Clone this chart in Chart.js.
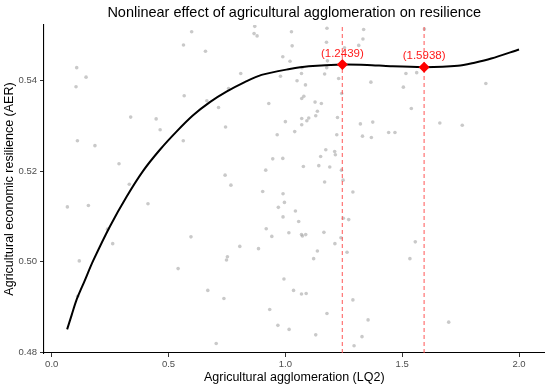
<!DOCTYPE html>
<html>
<head>
<meta charset="utf-8">
<script src="https://cdn.jsdelivr.net/npm/chart.js@4/dist/chart.umd.min.js"></script>
<style>
  html, body { margin: 0; padding: 0; background: #fff; }
  #wrap { width: 550px; height: 389px; }
</style>
</head>
<body>
<div id="wrap"><canvas id="myChart" width="550" height="389"></canvas></div>
<script>
// scatter of observations (LQ2, AER)
const pointX = [
  0.107, 0.147, 0.104, 0.599, 0.564, 0.567, 0.338, 0.447, 0.464, 0.110, 0.185, 0.563, 0.288, 0.332,
  0.067, 0.157, 0.412, 0.239, 0.261, 0.596, 0.118, 0.541, 0.111,
  0.869, 0.866, 0.879, 0.658, 0.989, 0.809, 0.979, 0.757, 0.664, 0.714, 0.929, 0.744, 0.965,
  0.946, 0.989, 0.742, 0.916, 0.767,
  0.903, 0.990, 0.996, 0.970, 0.990, 0.918, 0.942, 1.015, 0.805, 0.885, 0.752, 0.748, 0.994,
  0.668, 0.737, 0.933, 0.968, 1.016, 0.704,
  1.026, 1.178, 1.335, 1.029, 1.176, 1.253, 1.332, 1.314, 1.020, 1.180, 1.071, 1.177, 1.069,
  1.168, 1.228, 1.050, 1.086, 1.366, 1.241, 1.079, 1.070, 1.127, 1.154, 1.137, 1.130, 1.100,
  1.070, 1.092, 1.223, 1.000, 1.070, 1.040, 1.321, 1.374, 1.220, 1.330, 1.368, 1.173, 1.211,
  1.151, 1.214, 1.077, 1.143, 1.190, 1.240, 1.168, 1.247,
  1.289, 1.043, 1.057, 1.248, 1.271, 1.069, 1.087, 1.073, 1.165, 1.238, 1.212, 1.137, 1.121,
  1.264, 1.035, 1.069, 1.089, 1.289, 1.178, 1.354, 1.130, 1.328, 1.294,
  1.595, 1.516, 1.562, 1.505, 1.858, 1.539, 1.661, 1.757, 1.442, 1.469, 1.556, 1.533, 1.699
];
const pointY = [
  0.5428, 0.5407, 0.5386, 0.5507, 0.5478, 0.5366, 0.5319, 0.5315, 0.5291, 0.5267, 0.5256, 0.5267, 0.5216, 0.5171,
  0.5121, 0.5124, 0.5128, 0.5072, 0.5040, 0.5055, 0.5002, 0.4985, 0.4924,
  0.5519, 0.5503, 0.5498, 0.5464, 0.5452, 0.5415, 0.5409, 0.5382, 0.5355, 0.5340, 0.5349, 0.5297, 0.5280,
  0.5227, 0.5228, 0.5191, 0.5202, 0.5169,
  0.5155, 0.5150, 0.5131, 0.5120, 0.5099, 0.5073, 0.5056, 0.5064, 0.5034, 0.5029, 0.5011, 0.5004, 0.4962,
  0.4937, 0.4919, 0.4895, 0.4860, 0.4851, 0.4820,
  0.5507, 0.5515, 0.5512, 0.5476, 0.5484, 0.5472, 0.5491, 0.5477, 0.5442, 0.5443, 0.5428, 0.5428, 0.5415,
  0.5414, 0.5404, 0.5399, 0.5390, 0.5396, 0.5371, 0.5365, 0.5360, 0.5352, 0.5349, 0.5332, 0.5322, 0.5317,
  0.5316, 0.5311, 0.5318, 0.5309, 0.5302, 0.5287, 0.5304, 0.5308, 0.5280, 0.5277, 0.5274, 0.5247, 0.5243,
  0.5232, 0.5236, 0.5210, 0.5212, 0.5209, 0.5202, 0.5176, 0.5180,
  0.5154, 0.5112, 0.5089, 0.5096, 0.5093, 0.5060, 0.5060, 0.5057, 0.5065, 0.5053, 0.5040, 0.5024, 0.5007,
  0.5021, 0.4937, 0.4929, 0.4930, 0.4916, 0.4886, 0.4872, 0.4839, 0.4835, 0.4815,
  0.5513, 0.5415, 0.5417, 0.5385, 0.5393, 0.5338, 0.5306, 0.5301, 0.5285, 0.5285, 0.5044, 0.5007, 0.4867
];

// fitted curve
const curveX = [0.066, 0.085, 0.107, 0.140, 0.178, 0.249, 0.321, 0.392, 0.463, 0.534, 0.605, 0.677, 0.748, 0.826,
  0.898, 1.019, 1.100, 1.2439, 1.350, 1.450, 1.5938, 1.738, 1.810, 1.881, 2.000];
const curveY = [0.4851, 0.4882, 0.4917, 0.4957, 0.5003, 0.5078, 0.5144, 0.5201, 0.5247, 0.5287, 0.5323, 0.5352, 0.5375, 0.5396,
  0.5412, 0.5425, 0.5431, 0.5435, 0.5434, 0.5431, 0.5429, 0.5432, 0.5439, 0.5448, 0.5468];

// turning points
const thresholdX = [1.2439, 1.5938];
const thresholdY = [0.5435, 0.5429];
const thresholdLabels = ['(1.2439)', '(1.5938)'];

const xTicks = [0.0, 0.5, 1.0, 1.5, 2.0];
const yTicks = [0.48, 0.50, 0.52, 0.54];

const xMin = -0.033, xMax = 2.109;
const yMin = 0.4799, yMax = 0.5522;

const FONT = '"Liberation Sans", Arial, sans-serif';

const scatterData = pointX.map((x, i) => ({ x: x, y: pointY[i] }));
const curveData = curveX.map((x, i) => ({ x: x, y: curveY[i] }));

const vlines = thresholdX.map(x => ({
  type: 'line',
  data: [{ x: x, y: yMin }, { x: x, y: yMax }],
  borderColor: 'rgba(255, 80, 80, 0.75)',
  borderWidth: 1.3,
  borderDash: [4, 3],
  pointRadius: 0,
  fill: false,
  order: 3
}));

const labelPlugin = {
  id: 'thresholdLabels',
  afterDatasetsDraw(chart) {
    const ctx = chart.ctx;
    const xs = chart.scales.x, ys = chart.scales.y;
    ctx.save();
    ctx.font = '11.5px ' + FONT;
    ctx.fillStyle = '#ff1a1a';
    ctx.textAlign = 'center';
    ctx.textBaseline = 'middle';
    thresholdX.forEach((x, i) => {
      ctx.fillText(thresholdLabels[i], xs.getPixelForValue(x), ys.getPixelForValue(thresholdY[i]) - 11);
    });
    ctx.restore();
  }
};

const config = {
  type: 'scatter',
  data: {
    datasets: [
      {
        data: scatterData,
        backgroundColor: 'rgba(165, 165, 165, 0.6)',
        borderWidth: 0,
        pointRadius: 1.8,
        order: 5
      },
      {
        type: 'line',
        data: curveData,
        borderColor: '#000',
        borderWidth: 2,
        pointRadius: 0,
        tension: 0.3,
        fill: false,
        order: 4
      },
      ...vlines,
      {
        data: thresholdX.map((x, i) => ({ x: x, y: thresholdY[i] })),
        pointStyle: 'rectRot',
        pointRadius: 5.5,
        backgroundColor: '#ff0000',
        borderColor: '#ff0000',
        borderWidth: 0,
        order: 1
      }
    ]
  },
  options: {
    responsive: false,
    animation: false,
    events: [],
    layout: { padding: { left: 0, right: 5, top: 0, bottom: 0 } },
    plugins: {
      legend: { display: false },
      tooltip: { enabled: false },
      title: {
        display: true,
        fullSize: false,
        text: 'Nonlinear effect of agricultural agglomeration on resilience',
        color: '#000',
        font: { family: FONT, size: 14.5, weight: 'normal' },
        padding: { top: 4, bottom: 3.6 }
      }
    },
    scales: {
      x: {
        type: 'linear',
        min: xMin,
        max: xMax,
        afterBuildTicks: s => { s.ticks = xTicks.map(v => ({ value: v })); },
        afterFit: s => { s.height = 36; },
        ticks: {
          color: '#4d4d4d',
          font: { family: FONT, size: 9.5 },
          padding: 2,
          callback: v => Number(v).toFixed(1)
        },
        grid: { display: true, drawOnChartArea: false, drawTicks: true, tickLength: 4, color: '#333' },
        border: { display: true, color: '#000', width: 1.1 },
        title: {
          display: true,
          text: 'Agricultural agglomeration (LQ2)',
          color: '#000',
          font: { family: FONT, size: 12.5 },
          padding: { top: 0, bottom: 3.5 }
        }
      },
      y: {
        type: 'linear',
        min: yMin,
        max: yMax,
        afterBuildTicks: s => { s.ticks = yTicks.map(v => ({ value: v })); },
        afterFit: s => { s.width = 44; },
        ticks: {
          color: '#4d4d4d',
          font: { family: FONT, size: 9.5 },
          padding: 3,
          callback: v => Number(v).toFixed(2)
        },
        grid: { display: true, drawOnChartArea: false, drawTicks: true, tickLength: 4, color: '#333' },
        border: { display: true, color: '#000', width: 1.1 },
        title: {
          display: true,
          text: 'Agricultural economic resilience (AER)',
          color: '#000',
          font: { family: FONT, size: 12.5 },
          padding: { top: 2.5, bottom: 0 }
        }
      }
    }
  },
  plugins: [labelPlugin]
};

new Chart(document.getElementById('myChart'), config);
</script>
</body>
</html>
